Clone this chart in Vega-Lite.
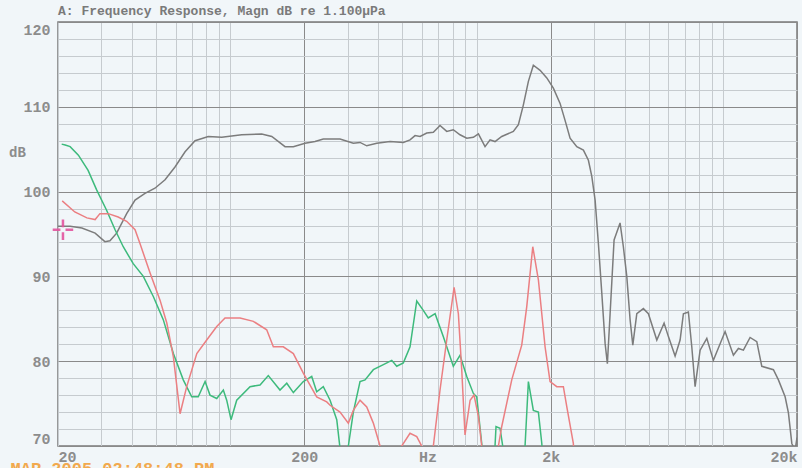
{
  "$schema": "https://vega.github.io/schema/vega-lite/v6.json",
  "autosize": {"type": "none"},
  "width": 739,
  "height": 424,
  "padding": {"left": 58, "top": 22, "right": 5, "bottom": 22},
  "background": "#f1f6f9",
  "title": {"text": "A: Frequency Response, Magn dB re 1.100µPa", "anchor": "start", "frame": "group", "font": "Liberation Mono", "fontSize": 13, "fontWeight": "bold", "color": "#7a7a7a", "offset": 4},
  "config": {"view": {"stroke": "#7a7a7a", "strokeWidth": 1.5, "fill": "#f1f6f9"}},
  "datasets": {
    "curves": [
      {"s":"gray","f":20,"db":95.9},{"s":"gray","f":22.4,"db":95.9},{"s":"gray","f":25.0,"db":95.7},{"s":"gray","f":28.3,"db":95.1},{"s":"gray","f":31.0,"db":94.1},{"s":"gray","f":32.5,"db":94.2},{"s":"gray","f":34.6,"db":95.1},{"s":"gray","f":38.0,"db":97.4},{"s":"gray","f":41.1,"db":99.0},{"s":"gray","f":45.1,"db":99.8},{"s":"gray","f":49.5,"db":100.4},{"s":"gray","f":54.4,"db":101.4},{"s":"gray","f":59.7,"db":102.9},{"s":"gray","f":65.6,"db":104.7},{"s":"gray","f":72.0,"db":106.0},{"s":"gray","f":81.5,"db":106.5},{"s":"gray","f":92.4,"db":106.4},{"s":"gray","f":111.4,"db":106.7},{"s":"gray","f":134.3,"db":106.8},{"s":"gray","f":147.5,"db":106.5},{"s":"gray","f":167.0,"db":105.3},{"s":"gray","f":180.5,"db":105.3},{"s":"gray","f":201.3,"db":105.7},{"s":"gray","f":221,"db":105.9},{"s":"gray","f":238.8,"db":106.2},{"s":"gray","f":279.2,"db":106.2},{"s":"gray","f":316.2,"db":105.7},{"s":"gray","f":336.6,"db":105.8},{"s":"gray","f":358.4,"db":105.4},{"s":"gray","f":393.6,"db":105.7},{"s":"gray","f":445.7,"db":105.9},{"s":"gray","f":504.6,"db":105.8},{"s":"gray","f":537.2,"db":106.1},{"s":"gray","f":563,"db":106.6},{"s":"gray","f":590,"db":106.5},{"s":"gray","f":628,"db":106.9},{"s":"gray","f":668,"db":107.0},{"s":"gray","f":711,"db":107.8},{"s":"gray","f":757,"db":107.1},{"s":"gray","f":805,"db":107.3},{"s":"gray","f":857,"db":106.7},{"s":"gray","f":913,"db":106.3},{"s":"gray","f":971,"db":106.4},{"s":"gray","f":1018,"db":106.8},{"s":"gray","f":1083,"db":105.3},{"s":"gray","f":1135,"db":106.1},{"s":"gray","f":1189,"db":105.9},{"s":"gray","f":1266,"db":106.5},{"s":"gray","f":1411,"db":107.1},{"s":"gray","f":1479,"db":107.9},{"s":"gray","f":1549,"db":110.2},{"s":"gray","f":1624,"db":113.0},{"s":"gray","f":1701,"db":114.9},{"s":"gray","f":1812,"db":114.3},{"s":"gray","f":1929,"db":113.4},{"s":"gray","f":2051,"db":112.2},{"s":"gray","f":2184,"db":110.4},{"s":"gray","f":2288,"db":108.4},{"s":"gray","f":2398,"db":106.3},{"s":"gray","f":2553,"db":105.3},{"s":"gray","f":2716,"db":104.9},{"s":"gray","f":2846,"db":103.7},{"s":"gray","f":2938,"db":101.8},{"s":"gray","f":3030,"db":99.0},{"s":"gray","f":3124,"db":93.9},{"s":"gray","f":3226,"db":88.0},{"s":"gray","f":3327,"db":82.1},{"s":"gray","f":3398,"db":79.7},{"s":"gray","f":3486,"db":85.6},{"s":"gray","f":3618,"db":94.3},{"s":"gray","f":3826,"db":96.3},{"s":"gray","f":3946,"db":93.5},{"s":"gray","f":4074,"db":90.0},{"s":"gray","f":4202,"db":84.9},{"s":"gray","f":4310,"db":81.9},{"s":"gray","f":4474,"db":85.6},{"s":"gray","f":4758,"db":86.2},{"s":"gray","f":4986,"db":85.6},{"s":"gray","f":5394,"db":82.5},{"s":"gray","f":5774,"db":84.5},{"s":"gray","f":6012,"db":82.9},{"s":"gray","f":6400,"db":80.6},{"s":"gray","f":6706,"db":82.5},{"s":"gray","f":6916,"db":85.6},{"s":"gray","f":7246,"db":85.8},{"s":"gray","f":7480,"db":81.7},{"s":"gray","f":7716,"db":77.0},{"s":"gray","f":8086,"db":81.3},{"s":"gray","f":8608,"db":82.7},{"s":"gray","f":9154,"db":80.1},{"s":"gray","f":10212,"db":83.5},{"s":"gray","f":11038,"db":80.7},{"s":"gray","f":11566,"db":81.5},{"s":"gray","f":12118,"db":81.3},{"s":"gray","f":12900,"db":82.8},{"s":"gray","f":13734,"db":82.3},{"s":"gray","f":14392,"db":79.4},{"s":"gray","f":16044,"db":79.0},{"s":"gray","f":16812,"db":77.8},{"s":"gray","f":17898,"db":75.8},{"s":"gray","f":18460,"db":73.9},{"s":"gray","f":19056,"db":70.3},{"s":"gray","f":19648,"db":69.5},{"s":"gray","f":20000,"db":71.0},

      {"s":"green","f":20.7,"db":105.6},{"s":"green","f":21.4,"db":105.5},{"s":"green","f":22.4,"db":105.3},{"s":"green","f":24.2,"db":104.3},{"s":"green","f":26.5,"db":102.5},{"s":"green","f":28.7,"db":100.2},{"s":"green","f":31.5,"db":97.8},{"s":"green","f":34.1,"db":95.5},{"s":"green","f":36.8,"db":93.5},{"s":"green","f":40.4,"db":91.5},{"s":"green","f":44.4,"db":90.0},{"s":"green","f":48.8,"db":87.6},{"s":"green","f":53.5,"db":84.9},{"s":"green","f":58.8,"db":80.9},{"s":"green","f":64.5,"db":77.8},{"s":"green","f":69.8,"db":75.8},{"s":"green","f":74.2,"db":75.8},{"s":"green","f":79.1,"db":77.6},{"s":"green","f":82.8,"db":76.0},{"s":"green","f":88.2,"db":75.6},{"s":"green","f":93.8,"db":76.6},{"s":"green","f":96.8,"db":75.4},{"s":"green","f":100.8,"db":73.1},{"s":"green","f":106.3,"db":75.4},{"s":"green","f":120.4,"db":77.0},{"s":"green","f":132.2,"db":77.2},{"s":"green","f":142.8,"db":78.3},{"s":"green","f":159.3,"db":76.6},{"s":"green","f":169.7,"db":77.4},{"s":"green","f":180.5,"db":76.3},{"s":"green","f":198.1,"db":77.6},{"s":"green","f":214.3,"db":78.2},{"s":"green","f":224.5,"db":76.4},{"s":"green","f":238.8,"db":77.0},{"s":"green","f":254.4,"db":75.4},{"s":"green","f":270.8,"db":73.1},{"s":"green","f":279,"db":69.8},{"s":"green","f":288,"db":66},{"s":"green","f":296,"db":66},{"s":"green","f":301.8,"db":70.0},{"s":"green","f":316.2,"db":74.0},{"s":"green","f":336.6,"db":77.6},{"s":"green","f":352.8,"db":77.8},{"s":"green","f":381.2,"db":79.0},{"s":"green","f":418.7,"db":79.6},{"s":"green","f":452.8,"db":80.1},{"s":"green","f":474.4,"db":79.4},{"s":"green","f":504.6,"db":79.8},{"s":"green","f":537.2,"db":81.7},{"s":"green","f":572,"db":87.1},{"s":"green","f":608,"db":86.0},{"s":"green","f":637,"db":85.1},{"s":"green","f":679,"db":85.6},{"s":"green","f":733,"db":82.9},{"s":"green","f":805,"db":79.4},{"s":"green","f":857,"db":80.7},{"s":"green","f":913,"db":78.2},{"s":"green","f":971,"db":76.2},{"s":"green","f":1002,"db":75.8},{"s":"green","f":1050,"db":70.3},{"s":"green","f":1080,"db":66},{"s":"green","f":1170,"db":66},{"s":"green","f":1200,"db":72.3},{"s":"green","f":1246,"db":72.1},{"s":"green","f":1285,"db":69.5},{"s":"green","f":1320,"db":66},{"s":"green","f":1540,"db":66},{"s":"green","f":1574,"db":70},{"s":"green","f":1624,"db":77.6},{"s":"green","f":1701,"db":74.2},{"s":"green","f":1783,"db":74.0},{"s":"green","f":1841,"db":70.3},{"s":"green","f":1880,"db":66},

      {"s":"red","f":20.8,"db":98.9},{"s":"red","f":23.4,"db":97.6},{"s":"red","f":26.2,"db":96.9},{"s":"red","f":28.3,"db":96.7},{"s":"red","f":29.6,"db":97.4},{"s":"red","f":32.0,"db":97.4},{"s":"red","f":35.1,"db":97.0},{"s":"red","f":38.0,"db":96.5},{"s":"red","f":41.1,"db":95.5},{"s":"red","f":43.0,"db":93.9},{"s":"red","f":47.3,"db":90.4},{"s":"red","f":51.9,"db":87.2},{"s":"red","f":55.3,"db":84.5},{"s":"red","f":58.8,"db":80.5},{"s":"red","f":62.6,"db":73.8},{"s":"red","f":66.6,"db":77.0},{"s":"red","f":73.2,"db":80.9},{"s":"red","f":80.3,"db":82.5},{"s":"red","f":88.2,"db":84.1},{"s":"red","f":95.3,"db":85.1},{"s":"red","f":109.7,"db":85.1},{"s":"red","f":124.2,"db":84.7},{"s":"red","f":140.7,"db":83.7},{"s":"red","f":149.7,"db":81.7},{"s":"red","f":164.3,"db":81.7},{"s":"red","f":180.5,"db":80.9},{"s":"red","f":198.1,"db":78.6},{"s":"red","f":224.5,"db":75.8},{"s":"red","f":246.6,"db":75.2},{"s":"red","f":254.4,"db":74.8},{"s":"red","f":279.2,"db":74.0},{"s":"red","f":301.8,"db":72.7},{"s":"red","f":316.2,"db":74.2},{"s":"red","f":336.6,"db":75.4},{"s":"red","f":358.4,"db":74.6},{"s":"red","f":381.2,"db":72.7},{"s":"red","f":405.8,"db":70.0},{"s":"red","f":420,"db":66},{"s":"red","f":480,"db":66},{"s":"red","f":497,"db":70},{"s":"red","f":537,"db":71.5},{"s":"red","f":572,"db":71.1},{"s":"red","f":599,"db":70},{"s":"red","f":615,"db":66},{"s":"red","f":650,"db":66},{"s":"red","f":668,"db":70},{"s":"red","f":711,"db":76.6},{"s":"red","f":757,"db":82.5},{"s":"red","f":811,"db":88.7},{"s":"red","f":844,"db":85.6},{"s":"red","f":871,"db":79.0},{"s":"red","f":898,"db":71.3},{"s":"red","f":942,"db":75.4},{"s":"red","f":977,"db":76.0},{"s":"red","f":1018,"db":73.5},{"s":"red","f":1050,"db":70},{"s":"red","f":1070,"db":66},{"s":"red","f":1200,"db":66},{"s":"red","f":1227,"db":70},{"s":"red","f":1266,"db":72.3},{"s":"red","f":1390,"db":77.8},{"s":"red","f":1526,"db":81.9},{"s":"red","f":1599,"db":86.4},{"s":"red","f":1692,"db":93.5},{"s":"red","f":1783,"db":89.6},{"s":"red","f":1898,"db":81.7},{"s":"red","f":1989,"db":77.6},{"s":"red","f":2118,"db":77.0},{"s":"red","f":2252,"db":77.0},{"s":"red","f":2326,"db":74.6},{"s":"red","f":2472,"db":70.3},{"s":"red","f":2520,"db":66}
    ],
    "cursor": [{"f": 20.95, "db": 95.5}],
    "stamp": [{"f": 10.6, "db": 68.25, "label": "9 MAR 2005 02:48:48 PM"}]
  },
  "encoding": {
    "x": {
      "field": "f", "type": "quantitative",
      "scale": {"type": "log", "domain": [20, 20000], "nice": false},
      "axis": {
        "values": [20,30,40,50,60,70,80,90,100,200,300,400,500,600,700,800,900,1000,2000,3000,4000,5000,6000,7000,8000,9000,10000,20000],
        "labelExpr": "datum.value == 20 ? '20' : datum.value == 200 ? '200' : datum.value == 2000 ? '2k' : datum.value == 20000 ? '20k' : ''",
        "grid": true,
        "gridColor": {"condition": {"test": "datum.value == 200 || datum.value == 2000 || datum.value == 20000", "value": "#8a8a8a"}, "value": "#c6cbcf"},
        "gridWidth": 1,
        "ticks": false,
        "domain": false,
        "labelFlush": true,
        "labelOverlap": false,
        "labelPadding": 3,
        "labelFont": "Liberation Mono",
        "labelFontSize": 15,
        "labelFontWeight": "bold",
        "labelColor": "#8c8c8c",
        "title": "Hz",
        "titleFont": "Liberation Mono",
        "titleFontSize": 15,
        "titleFontWeight": "bold",
        "titleColor": "#8c8c8c",
        "titleBaseline": "top",
        "titleY": 3,
        "titlePadding": 0
      }
    },
    "y": {
      "field": "db", "type": "quantitative",
      "scale": {"domain": [70, 120], "nice": false, "zero": false},
      "axis": {
        "values": [70,72,74,76,78,80,82,84,86,88,90,92,94,96,98,100,102,104,106,108,110,112,114,116,118,120],
        "labelExpr": "datum.value % 10 == 0 ? datum.label : ''",
        "grid": true,
        "gridColor": {"condition": {"test": "datum.value % 10 == 0", "value": "#8a8a8a"}, "value": "#c6cbcf"},
        "gridWidth": 1,
        "ticks": false,
        "domain": false,
        "labelFlush": true,
        "labelOverlap": false,
        "labelPadding": 8,
        "labelFont": "Liberation Mono",
        "labelFontSize": 15,
        "labelFontWeight": "bold",
        "labelColor": "#8c8c8c",
        "title": "dB",
        "titleAngle": 0,
        "titleFont": "Liberation Mono",
        "titleFontSize": 14,
        "titleFontWeight": "bold",
        "titleColor": "#8c8c8c",
        "titleAlign": "center",
        "titleBaseline": "middle",
        "titleX": -41,
        "titleY": 130
      }
    }
  },
  "layer": [
    {
      "data": {"name": "curves"},
      "mark": {"type": "line", "clip": true, "strokeWidth": 1.5},
      "encoding": {
        "color": {
          "field": "s", "type": "nominal",
          "scale": {"domain": ["gray", "green", "red"], "range": ["#7c7c7c", "#3dba7c", "#eb7f82"]},
          "legend": null
        },
        "detail": {"field": "s"}
      }
    },
    {
      "data": {"name": "cursor"},
      "mark": {"type": "point", "shape": "M-1,0H-0.25M0.25,0H1M0,-1V-0.25M0,0.25V1", "size": 420, "filled": false, "stroke": "#e3559f", "strokeWidth": 2.5, "opacity": 0.9, "clip": false}
    },
    {
      "data": {"name": "stamp"},
      "mark": {"type": "text", "align": "left", "baseline": "top", "font": "Liberation Mono", "fontSize": 17, "fontWeight": "bold", "color": "#f2a94e", "clip": false},
      "encoding": {
        "text": {"field": "label"}
      }
    }
  ]
}
